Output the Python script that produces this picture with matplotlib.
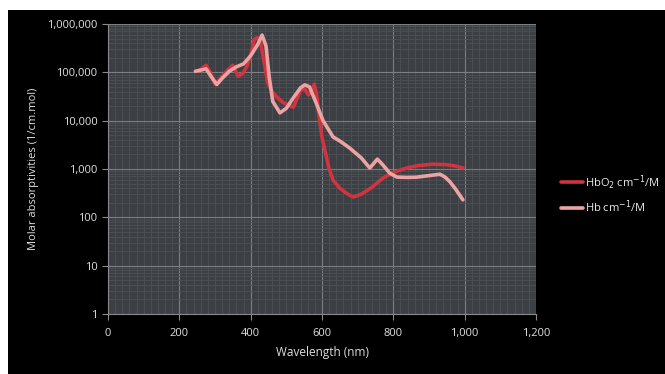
import matplotlib
matplotlib.use("Agg")
import matplotlib.pyplot as plt
from matplotlib.ticker import FixedLocator, MultipleLocator, LogLocator, NullFormatter
from matplotlib.patches import Rectangle

# wavelengths (nm) and molar absorptivities
hbo2_wl = [250, 262, 275, 288, 300, 315, 335, 350, 365, 378, 390, 402, 410, 418, 428,
           438, 448, 460, 475, 490, 505, 520, 540, 552, 562, 570, 578, 585, 592, 600,
           608, 620, 631, 650, 670, 687, 710, 740, 771, 800, 838, 870, 911, 950, 975, 995]
hbo2_val = [105000, 118000, 140000, 95000, 57000, 75000, 110000, 140000, 83000, 95000,
            135000, 260000, 480000, 520000, 400000, 160000, 60000, 40000, 30000, 24000,
            21000, 19000, 43000, 45000, 34000, 40000, 57000, 35000, 12000, 4500,
            2500, 1000, 590, 400, 310, 263, 300, 420, 650, 850, 1050, 1180, 1260, 1230, 1150, 1050]

hb_wl = [245, 262, 275, 290, 305, 320, 340, 360, 380, 400, 420, 432, 443, 452, 462,
         482, 500, 520, 540, 552, 565, 580, 603, 631, 650, 678, 710, 734, 745, 755,
         765, 778, 790, 810, 840, 865, 900, 931, 945, 959, 975, 995]
hb_val = [105000, 112000, 118000, 80000, 56000, 75000, 105000, 130000, 150000, 220000,
          380000, 590000, 350000, 80000, 25000, 14500, 18000, 30000, 48000, 55000,
          50000, 27000, 10000, 4600, 3800, 2700, 1700, 1050, 1300, 1600,
          1350, 1050, 820, 680, 670, 677, 730, 780, 680, 540, 380, 230]

x_ticks = [0, 200, 400, 600, 800, 1000, 1200]
x_labels = ["0", "200", "400", "600", "800", "1,000", "1,200"]
y_ticks = [1, 10, 100, 1000, 10000, 100000, 1000000]
y_labels = ["1", "10", "100", "1,000", "10,000", "100,000", "1,000,000"]

plt.rcParams["font.family"] = ["Open Sans", "DejaVu Sans"]

fig = plt.figure(figsize=(6.65, 3.74), dpi=100, facecolor="white")
fig.patches.append(Rectangle((8 / 665, 0), 1, 1 - 10 / 374, transform=fig.transFigure,
                             facecolor="black", edgecolor="none", zorder=-10))

ax = fig.add_axes([108 / 665, 1 - 314 / 374, 428 / 665, 290 / 374])
ax.set_facecolor("#3c3f43")
ax.set_yscale("log")
ax.set_xlim(0, 1200)
ax.set_ylim(1, 1000000)

ax.xaxis.set_major_locator(FixedLocator(x_ticks))
ax.set_xticklabels(x_labels)
ax.xaxis.set_minor_locator(MultipleLocator(20))
ax.yaxis.set_major_locator(FixedLocator(y_ticks))
ax.set_yticklabels(y_labels)
ax.yaxis.set_minor_locator(LogLocator(base=10, subs=range(2, 10)))
ax.yaxis.set_minor_formatter(NullFormatter())

ax.grid(which="major", color="#7b7e82", linewidth=0.8)
ax.grid(which="minor", color="#4d5054", linewidth=0.6)
ax.set_axisbelow(True)

for side in ["top", "right"]:
    ax.spines[side].set_visible(False)
for side in ["left", "bottom"]:
    ax.spines[side].set_color("#8a8a8a")
ax.tick_params(which="major", colors="#8a8a8a", labelcolor="#e0e0e0", labelsize=8, length=4)
ax.tick_params(axis="x", pad=6)
ax.tick_params(which="minor", length=0)

l1, = ax.plot(hbo2_wl, hbo2_val, color="#d0343e", linewidth=2.6, solid_capstyle="round")
l2, = ax.plot(hb_wl, hb_val, color="#eba3a3", linewidth=2.6, solid_capstyle="round")

ax.set_xlabel("Wavelength (nm)", color="#e0e0e0", fontsize=8.5, labelpad=5)
ax.set_ylabel("Molar absorptivities (1/cm.mol)", color="#e0e0e0", fontsize=8, labelpad=6)

leg = fig.legend([l1, l2], ["HbO$_2$ cm$^{-1}$/M", "Hb cm$^{-1}$/M"],
                 loc="center left", bbox_to_anchor=(551 / 665, 1 - 194 / 374),
                 frameon=False, fontsize=8, handlelength=2.0, handletextpad=0.2,
                 labelspacing=0.6)
for t in leg.get_texts():
    t.set_color("#e8e8e8")

fig.savefig("out.png", dpi=100, facecolor="white")
